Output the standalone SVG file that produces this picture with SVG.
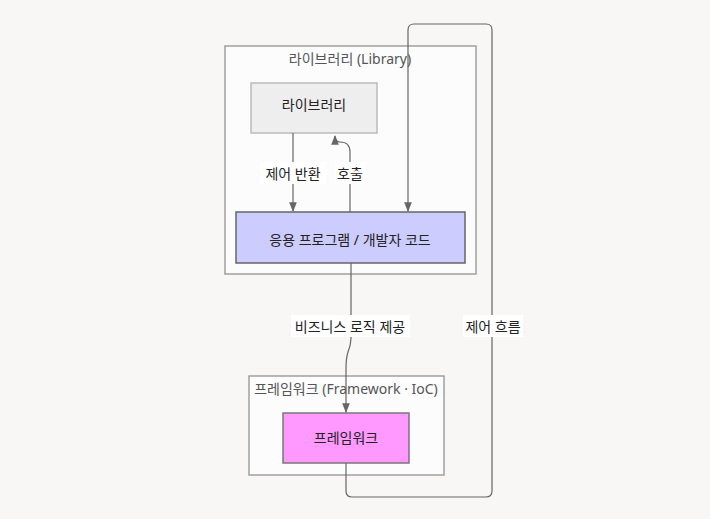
<svg xmlns="http://www.w3.org/2000/svg" width="710" height="519" viewBox="0 0 710 519">
<style>
text{font-family:"Noto Sans","Noto Sans CJK KR",sans-serif;font-size:14px;text-anchor:middle;dominant-baseline:central}
.cl{fill:#fcfcfc;stroke:#a0a0a0;stroke-width:1.5}
.ct{fill:#555}
.nt{fill:#222}
.e{fill:none;stroke:#666;stroke-width:1.2}
.lb{fill:#fff}
</style>
<defs>
<marker id="a" viewBox="0 0 10 10" refX="9" refY="5" markerWidth="8" markerHeight="8" orient="auto"><path d="M0,1 L10,5 L0,9 z" fill="#666"/></marker>
</defs>
<rect width="710" height="519" fill="#f8f7f5"/>
<g id="cluster-library"><rect class="cl" x="225" y="46" width="251" height="228"/><text class="ct" x="350" y="58">라이브러리 (Library)</text></g>
<g id="cluster-framework"><rect class="cl" x="249" y="376" width="195" height="99"/><text class="ct" x="346" y="388">프레임워크 (Framework · IoC)</text></g>
<g id="node-library"><rect x="251" y="83" width="126" height="50" fill="#eeeeee" stroke="#bbb" stroke-width="1.5"/><text class="nt" x="314" y="104">라이브러리</text></g>
<g id="node-app"><rect x="236" y="212" width="229" height="51" fill="#ccccff" stroke="#666" stroke-width="1.5"/><text class="nt" x="350" y="239">응용 프로그램 / 개발자 코드</text></g>
<g id="node-framework"><rect x="283" y="413" width="126" height="50" fill="#ff99ff" stroke="#777" stroke-width="1.5"/><text class="nt" x="346" y="437">프레임워크</text></g>
<g id="connectors">
<path class="e" d="M293,133 V211" marker-end="url(#a)"/>
<path class="e" d="M350,212 V152 Q350,142 340,142 Q335,142 335,136" marker-end="url(#a)"/>
<path class="e" d="M351,263 V338 Q351,345 348,352 Q346,358 346,368 V412" marker-end="url(#a)"/>
<path class="e" d="M346,463 V491 Q346,497 352,497 H486 Q492,497 492,491 V30 Q492,24 486,24 H414 Q408,24 408,30 V211" marker-end="url(#a)"/>
<rect class="lb" x="260" y="162" width="66" height="22"/><text class="nt" x="293" y="173">제어 반환</text>
<rect class="lb" x="335" y="162" width="31" height="22"/><text class="nt" x="350" y="173">호출</text>
<rect class="lb" x="291" y="315" width="119" height="22"/><text class="nt" x="350" y="326">비즈니스 로직 제공</text>
<rect class="lb" x="463" y="315" width="60" height="22"/><text class="nt" x="493" y="326">제어 흐름</text>
</g>
</svg>
